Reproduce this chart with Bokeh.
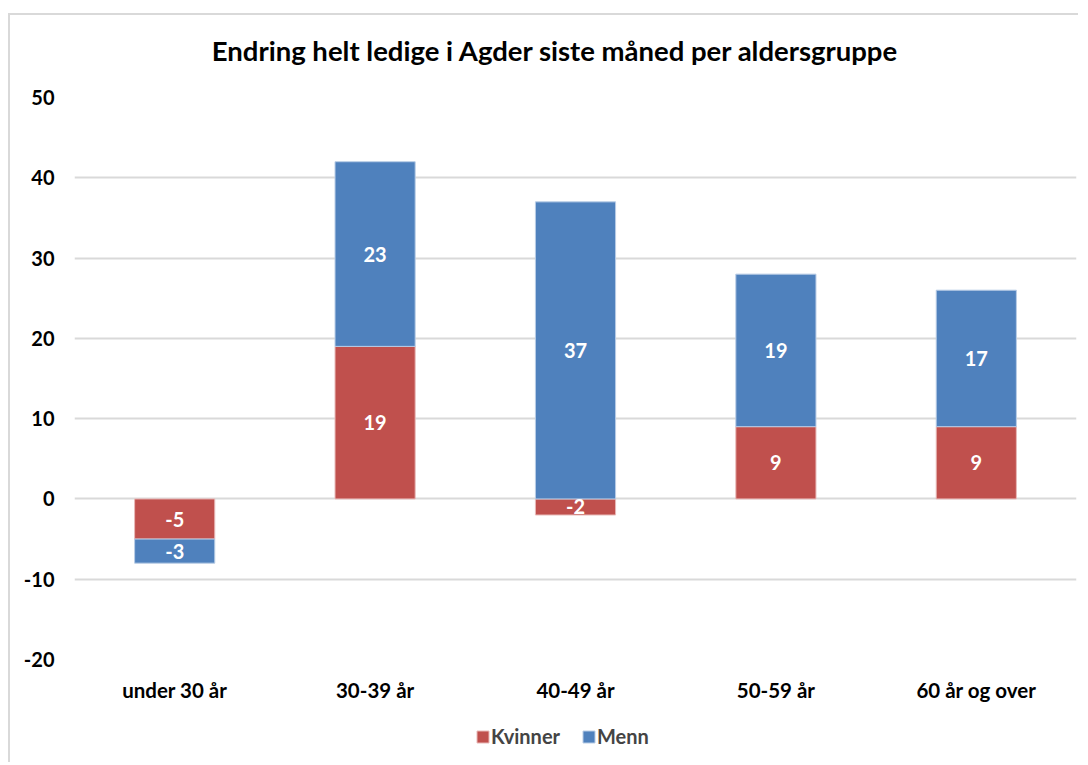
from bokeh.plotting import figure
from bokeh.layouts import column
from bokeh.models import (ColumnDataSource, FactorRange, Range1d, Legend, LegendItem,
                          FixedTicker, Label)
from bokeh.core.properties import value
from bokeh.embed import file_html
from bokeh.resources import INLINE

categories = ["under 30 år", "30-39 år", "40-49 år", "50-59 år", "60 år og over"]
kvinner = [-5, 19, -2, 9, 9]
menn = [-3, 23, 37, 19, 17]
y_ticks = [-20, -10, 0, 10, 20, 30, 40, 50]
title_text = "Endring helt ledige i Agder siste måned per aldersgruppe"

RED = "#C0504D"
BLUE = "#4F81BD"
FONT = "Lato"

# stacking (positives up, negatives down), Kvinner first then Menn
pos = [0] * len(categories)
neg = [0] * len(categories)
stacks = {}
for name, vals in (("Kvinner", kvinner), ("Menn", menn)):
    bottoms, tops = [], []
    for i, v in enumerate(vals):
        if v >= 0:
            b = pos[i]; t = b + v; pos[i] = t
        else:
            b = neg[i]; t = b + v; neg[i] = t
        bottoms.append(b); tops.append(t)
    stacks[name] = ColumnDataSource(dict(
        x=categories, bottom=bottoms, top=tops,
        mid=[(b + t) / 2 for b, t in zip(bottoms, tops)],
        lab=[str(v) for v in vals]))

# ---- title strip ----
hd = figure(width=1068, height=70, x_range=Range1d(0, 1), y_range=Range1d(0, 1),
            x_axis_type=None, y_axis_type=None, output_backend="svg", toolbar_location=None,
            min_border_left=64, min_border_right=2, min_border_top=0, min_border_bottom=0)
hd.outline_line_color = None
hd.add_layout(Label(x=481, y=35, x_units="screen", y_units="screen", text=title_text,
                    text_font=FONT, text_font_style="bold", text_font_size="27.5px",
                    text_color="#000000", text_align="center", text_baseline="middle"))

# ---- main chart ----
p = figure(x_range=FactorRange(*categories, range_padding=0),
           y_range=Range1d(-20, 50),
           frame_width=1002, frame_height=562,
           output_backend="svg", toolbar_location=None,
           min_border_left=64, min_border_right=2, min_border_top=12, min_border_bottom=0)
p.outline_line_color = None
xax = p.xaxis[0]
yax = p.yaxis[0]

for name, color, edge in (("Kvinner", RED, "#e8b9b8"), ("Menn", BLUE, "#b9cde6")):
    p.vbar(x="x", bottom="bottom", top="top", width=0.4, source=stacks[name],
           fill_color=color, line_color=edge, line_width=1)

for src in (stacks["Kvinner"], stacks["Menn"]):
    p.text(x="x", y="mid", text="lab", source=src, text_color="white",
           text_font=value(FONT), text_font_style="bold", text_font_size="20px",
           text_align="center", text_baseline="middle")

p.xgrid.grid_line_color = None
p.ygrid.grid_line_color = "#d9d9d9"
p.ygrid.grid_line_width = 2
yax.ticker = FixedTicker(ticks=y_ticks)
yax.major_label_overrides = {t: str(t) for t in y_ticks}

for ax in (xax, yax):
    ax.axis_line_color = None
    ax.major_tick_line_color = None
    ax.minor_tick_line_color = None
    ax.major_tick_out = 0
    ax.major_tick_in = 0
    ax.major_label_text_font = FONT
    ax.major_label_text_font_style = "bold"
    ax.major_label_text_color = "#000000"
yax.major_label_text_font_size = "20px"
xax.major_label_text_font_size = "20.5px"
yax.major_label_standoff = 20
xax.major_label_standoff = 18

# ---- legend strip below the chart (its bars lie outside its visible range) ----
lg = figure(x_range=FactorRange(*categories, range_padding=0), y_range=Range1d(1000, 1001),
            width=1068, height=58, output_backend="svg", toolbar_location=None,
            x_axis_type=None, y_axis_type=None,
            min_border_left=64, min_border_right=2, min_border_top=0, min_border_bottom=0)
lg.outline_line_color = None
lg_r = {}
for name, color, edge in (("Kvinner", RED, "#e8b9b8"), ("Menn", BLUE, "#b9cde6")):
    lg_r[name] = lg.vbar(x="x", bottom="bottom", top="top", width=0.4, source=stacks[name],
                         fill_color=color, line_color=edge, line_width=1)

legend = Legend(items=[LegendItem(label="Kvinner", renderers=[lg_r["Kvinner"]]),
                       LegendItem(label="Menn", renderers=[lg_r["Menn"]])],
                orientation="horizontal", location=(401, 14),
                glyph_width=15, glyph_height=15, label_height=15,
                label_standoff=1, spacing=21, padding=0, margin=0,
                border_line_color=None, background_fill_alpha=0,
                label_text_font=FONT, label_text_font_style="bold",
                label_text_font_size="20px", label_text_baseline="middle")
lg.add_layout(legend, "center")

layout = column(hd, p, lg, spacing=0)
layout.styles = {"border-left": "2px solid #d9d9d9", "border-top": "2px solid #d9d9d9",
                 "margin-top": "13px", "margin-left": "8px"}

open("out.html", "w").write(file_html(layout, INLINE))
